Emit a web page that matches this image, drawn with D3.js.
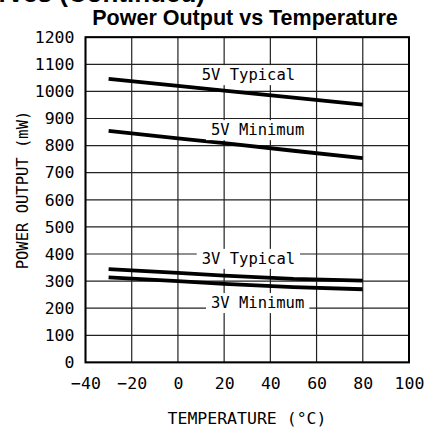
<!DOCTYPE html>
<html>
<head>
<meta charset="utf-8">
<script src="https://cdn.jsdelivr.net/npm/d3@7"></script>
<style>
  html, body { margin: 0; padding: 0; background: #fff; }
  svg { display: block; }
</style>
</head>
<body>
<div id="chart"></div>
<script>
// Temperature sweep (°C) and output power (mW) for each supply condition
const temps = [-30, 0, 20, 50, 80];
const typ5V = [1046, 1020, 1003, 977, 951];
const min5V = [854, 827, 809, 781, 754];
const typ3V = [344, 330, 320, 308, 302];
const min3V = [314, 300, 290, 278, 270];

const seriesNames = ["5V Typical", "5V Minimum", "3V Typical", "3V Minimum"];
const seriesValues = [typ5V, min5V, typ3V, min3V];
// Where each curve's caption sits, in data units [°C, mW]
const labelAnchors = [[30.5, 1060], [34.5, 857], [30.5, 382], [34.5, 219]];

const xTicks = [-40, -20, 0, 20, 40, 60, 80, 100];
const yTicks = [0, 100, 200, 300, 400, 500, 600, 700, 800, 900, 1000, 1100, 1200];

const W = 428, H = 431;
const margin = { left: 85.5, right: 19, top: 37.2, bottom: 68.6 };

const svg = d3.select("#chart").append("svg")
  .attr("width", W).attr("height", H);

const x = d3.scaleLinear().domain([-40, 100]).range([margin.left, W - margin.right]);
const y = d3.scaleLinear().domain([0, 1200]).range([H - margin.bottom, margin.top]);

const monoFont = "'DejaVu Sans Mono', 'Liberation Mono', monospace";

// Section heading running off the top edge
svg.append("text")
  .attr("x", 205).attr("y", 1.5)
  .attr("text-anchor", "end")
  .attr("font-family", "'Liberation Sans', Arial, sans-serif")
  .attr("font-weight", "bold")
  .attr("font-size", 26)
  .text("Typical Performance Curves (Continued)");

// Chart title
svg.append("text")
  .attr("x", 245).attr("y", 25)
  .attr("text-anchor", "middle")
  .attr("font-family", "'Liberation Sans', Arial, sans-serif")
  .attr("font-weight", "bold")
  .attr("font-size", 21.5)
  .text("Power Output vs Temperature");

// Grid
const grid = svg.append("g").attr("stroke", "#222").attr("stroke-width", 1.2);
grid.selectAll("line.v").data(xTicks).join("line")
  .attr("class", "v")
  .attr("x1", d => x(d)).attr("x2", d => x(d))
  .attr("y1", y(0)).attr("y2", y(1200));
grid.selectAll("line.h").data(yTicks).join("line")
  .attr("class", "h")
  .attr("x1", x(-40)).attr("x2", x(100))
  .attr("y1", d => y(d)).attr("y2", d => y(d));

// Curves
const line = d3.line().x(d => x(d[0])).y(d => y(d[1]));
svg.append("g").selectAll("path").data(seriesValues).join("path")
  .attr("d", vals => line(temps.map((t, i) => [t, vals[i]])))
  .attr("fill", "none")
  .attr("stroke", "#000")
  .attr("stroke-width", 3.8)
  .attr("stroke-linecap", "butt");

// Curve captions on white boxes
const labels = svg.append("g")
  .attr("font-family", monoFont)
  .attr("font-size", 15.5);
seriesNames.forEach((name, i) => {
  const [tx, ty] = labelAnchors[i];
  const g = labels.append("g");
  const t = g.append("text")
    .attr("x", x(tx)).attr("y", y(ty))
    .attr("text-anchor", "middle")
    .attr("dominant-baseline", "central")
    .attr("fill", "#000")
    .text(name);
  const bb = t.node().getBBox();
  g.insert("rect", "text")
    .attr("x", bb.x - 5).attr("y", bb.y - 1)
    .attr("width", bb.width + 10).attr("height", bb.height + 2)
    .attr("fill", "#fff");
});

// Frame
svg.append("rect")
  .attr("x", x(-40)).attr("y", y(1200))
  .attr("width", x(100) - x(-40)).attr("height", y(0) - y(1200))
  .attr("fill", "none").attr("stroke", "#000").attr("stroke-width", 2);

// Axes (labels only; ticks drawn by the grid)
const xAxis = svg.append("g")
  .attr("transform", `translate(0,${y(0) + 12})`)
  .call(d3.axisBottom(x).tickValues(xTicks).tickSize(0).tickFormat(d => d < 0 ? "\u2212" + Math.abs(d) : d));
xAxis.select(".domain").remove();
xAxis.selectAll("text")
  .attr("font-family", monoFont).attr("font-size", 16.5).attr("fill", "#000").attr("dy", "0.71em");

const yAxis = svg.append("g")
  .attr("transform", `translate(${x(-40) - 11},0)`)
  .call(d3.axisLeft(y).tickValues(yTicks).tickSize(0).tickPadding(0).tickFormat(d3.format("d")));
yAxis.select(".domain").remove();
yAxis.selectAll("text")
  .attr("font-family", monoFont).attr("font-size", 16.5).attr("fill", "#000");

// Axis titles
svg.append("text")
  .attr("x", 247).attr("y", 418)
  .attr("text-anchor", "middle")
  .attr("dominant-baseline", "central")
  .attr("font-family", monoFont).attr("font-size", 16.5)
  .text("TEMPERATURE (\u00B0C)");

svg.append("text")
  .attr("transform", "translate(23,190) rotate(-90)")
  .attr("text-anchor", "middle")
  .attr("dominant-baseline", "central")
  .attr("font-family", monoFont).attr("font-size", 15.5)
  .text("POWER OUTPUT (mW)");
</script>
</body>
</html>
